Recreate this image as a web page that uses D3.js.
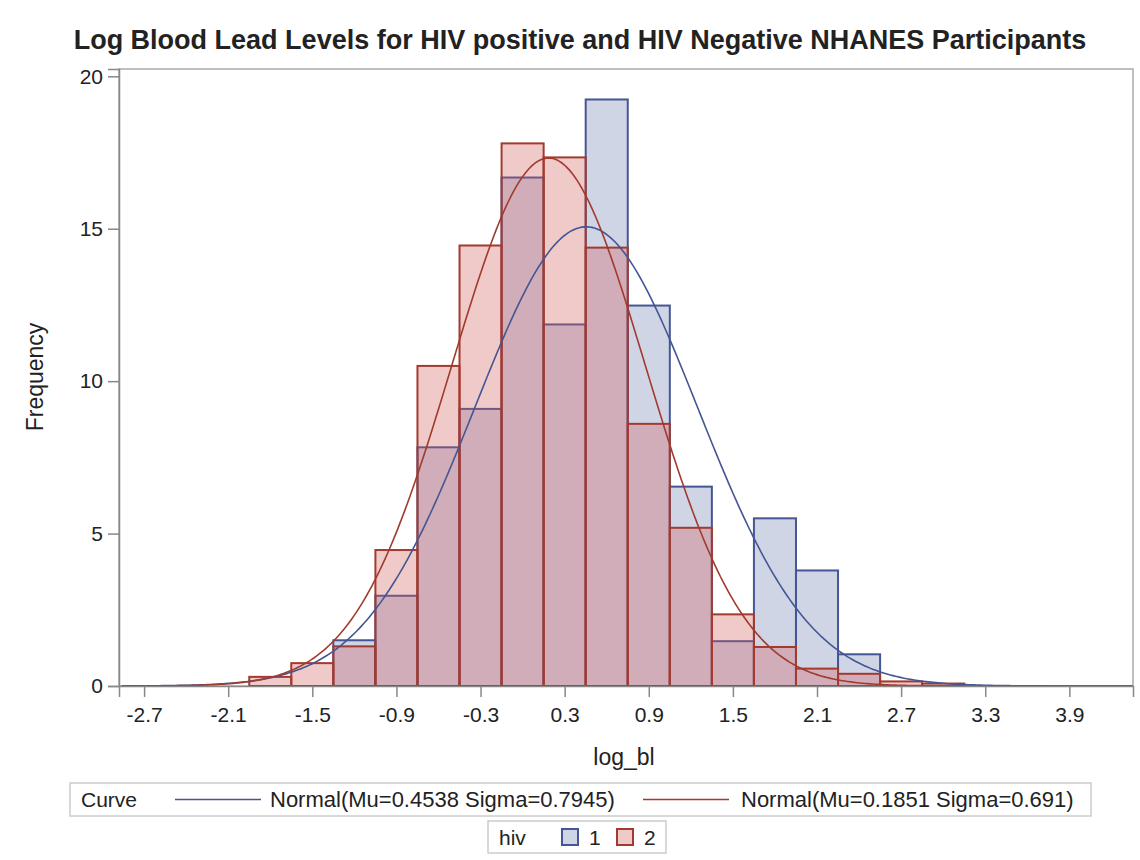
<!DOCTYPE html>
<html>
<head>
<meta charset="utf-8">
<script src="https://cdn.jsdelivr.net/npm/d3@7"></script>
<style>
  body { margin: 0; background: #fff; }
  text { font-family: "Liberation Sans", Arial, sans-serif; fill: #222; }
</style>
</head>
<body>
<svg id="chart" width="1140" height="860"></svg>
<script>
// histogram bins (midpoints) and percent per group
const binMids = [-1.8, -1.5, -1.2, -0.9, -0.6, -0.3, 0, 0.3, 0.6, 0.9, 1.2, 1.5, 1.8, 2.1, 2.4, 2.7, 3.0];
const hiv1 = [0, 0, 1.5, 2.96, 7.83, 9.09, 16.68, 11.86, 19.24, 12.48, 6.54, 1.47, 5.5, 3.79, 1.04, 0, 0];
const hiv2 = [0.3, 0.75, 1.3, 4.46, 10.5, 14.45, 17.8, 17.34, 14.38, 8.6, 5.19, 2.35, 1.28, 0.57, 0.4, 0.15, 0.08];
const binWidth = 0.3;

// fitted normal parameters from the legend
const groups = ['1', '2'];
const mus = [0.4538, 0.1851];
const sigmas = [0.7945, 0.691];
const curveLabels = ['Normal(Mu=0.4538 Sigma=0.7945)', 'Normal(Mu=0.1851 Sigma=0.691)'];

const xTicks = [-2.7, -2.1, -1.5, -0.9, -0.3, 0.3, 0.9, 1.5, 2.1, 2.7, 3.3, 3.9];
const yTicks = [0, 5, 10, 15, 20];

const fills = ['#6F7EB3', '#D05B5B'];
const lines = ['#445694', '#A23A2E'];

const margin = { left: 119, right: 1133, top: 69, bottom: 686 };

const svg = d3.select('#chart');

const x = d3.scaleLinear().domain([-2.879, 4.354]).range([margin.left, margin.right]);
const y = d3.scaleLinear().domain([0, 20.24]).range([margin.bottom, margin.top]);

// frame
svg.append('rect')
    .attr('x', margin.left).attr('y', margin.top)
    .attr('width', margin.right - margin.left)
    .attr('height', margin.bottom - margin.top)
    .attr('fill', 'none').attr('stroke', '#aaa').attr('stroke-width', 1.5);

// bars
[hiv1, hiv2].forEach((vals, g) => {
    svg.append('g').selectAll('rect')
        .data(binMids.map((m, i) => ({ m, v: vals[i] })).filter(d => d.v > 0))
        .enter().append('rect')
        .attr('x', d => x(d.m - binWidth / 2))
        .attr('width', d => x(d.m + binWidth / 2) - x(d.m - binWidth / 2))
        .attr('y', d => y(d.v))
        .attr('height', d => y(0) - y(d.v))
        .attr('fill', fills[g]).attr('fill-opacity', 0.33)
        .attr('stroke', lines[g]).attr('stroke-width', 2);
});

// normal curves, scaled to percent per bin
const xs = d3.range(0, 401).map(i => -2.86 + i * (4.354 + 2.86) / 400);
mus.forEach((mu, g) => {
    const s = sigmas[g];
    const pts = xs.map(v => [v, 100 * binWidth * Math.exp(-0.5 * ((v - mu) / s) ** 2) / (s * Math.sqrt(2 * Math.PI))]);
    svg.append('path')
        .datum(pts)
        .attr('d', d3.line().x(d => x(d[0])).y(d => y(d[1])))
        .attr('fill', 'none').attr('stroke', lines[g]).attr('stroke-width', 1.6);
});

// axes
const yAxis = svg.append('g')
    .attr('transform', `translate(${margin.left},0)`)
    .call(d3.axisLeft(y).tickValues(yTicks).tickSize(11).tickPadding(5));
const xAxis = svg.append('g')
    .attr('transform', `translate(0,${margin.bottom})`)
    .call(d3.axisBottom(x).tickValues(xTicks).tickFormat(d3.format('.1f')).tickSize(11).tickPadding(10));
[xAxis, yAxis].forEach(a => {
    a.select('.domain').attr('stroke', '#888').attr('stroke-width', 1.5);
    a.selectAll('.tick line').attr('stroke', '#888').attr('stroke-width', 1.5);
    a.selectAll('.tick text').style('font-size', '21px').attr('fill', '#222')
        .style('font-family', '"Liberation Sans", Arial, sans-serif');
});
xAxis.selectAll('.tick text').text(d => d3.format('.1f')(d).replace('−', '-'));

// titles
svg.append('text')
    .attr('x', 580).attr('y', 49)
    .attr('text-anchor', 'middle')
    .style('font-size', '27px').style('font-weight', 'bold')
    .text('Log Blood Lead Levels for HIV positive and HIV Negative NHANES Participants');

svg.append('text')
    .attr('transform', 'translate(43,377) rotate(-90)')
    .attr('text-anchor', 'middle')
    .style('font-size', '23px')
    .text('Frequency');

svg.append('text')
    .attr('x', 624).attr('y', 765)
    .attr('text-anchor', 'middle')
    .style('font-size', '23px')
    .text('log_bl');

// curve legend
const leg = svg.append('g');
leg.append('rect')
    .attr('x', 70).attr('y', 783).attr('width', 1021).attr('height', 33)
    .attr('fill', 'none').attr('stroke', '#ccc').attr('stroke-width', 1.5);
leg.append('text').attr('x', 81).attr('y', 807).style('font-size', '21px').text('Curve');
const lineX = [175, 643];
const textX = [270, 741];
groups.forEach((g, i) => {
    leg.append('line')
        .attr('x1', lineX[i]).attr('x2', lineX[i] + 86)
        .attr('y1', 799.5).attr('y2', 799.5)
        .attr('stroke', lines[i]).attr('stroke-width', 1.6);
    leg.append('text').attr('x', textX[i]).attr('y', 807)
        .style('font-size', '22px').text(curveLabels[i]);
});

// group legend
const leg2 = svg.append('g');
leg2.append('rect')
    .attr('x', 488).attr('y', 821).attr('width', 178).attr('height', 32)
    .attr('fill', 'none').attr('stroke', '#ccc').attr('stroke-width', 1.5);
leg2.append('text').attr('x', 499).attr('y', 845).style('font-size', '21px').text('hiv');
const swX = [562, 617];
groups.forEach((g, i) => {
    leg2.append('rect')
        .attr('x', swX[i]).attr('y', 829).attr('width', 16).attr('height', 16)
        .attr('fill', fills[i]).attr('fill-opacity', 0.33)
        .attr('stroke', lines[i]).attr('stroke-width', 2);
    leg2.append('text').attr('x', swX[i] + 27).attr('y', 845)
        .style('font-size', '21px').text(g);
});
</script>
</body>
</html>
